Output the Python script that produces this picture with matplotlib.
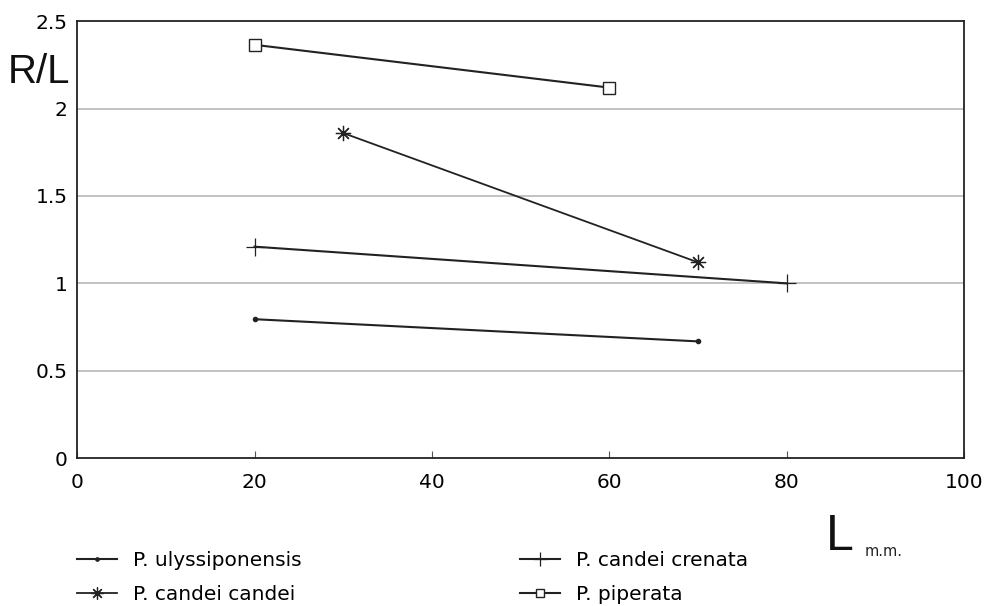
import matplotlib
matplotlib.use('Agg')
import matplotlib.pyplot as plt

plt.rcParams['font.family'] = ['DejaVu Sans']

names = ['P. ulyssiponensis', 'P. candei candei', 'P. candei crenata', 'P. piperata']
ulys_x = [20, 70]
ulys_y = [0.795, 0.668]
candei_x = [30, 70]
candei_y = [1.86, 1.12]
crenata_x = [20, 80]
crenata_y = [1.21, 1.0]
piper_x = [20, 60]
piper_y = [2.365, 2.12]

fig = plt.figure(figsize=(9.88, 6.06), dpi=100)
ax = fig.add_axes([0.078, 0.244, 0.898, 0.721])

for y in [0.5, 1, 1.5, 2]:
    ax.axhline(y, color='#b8b8b8', lw=1.2, zorder=0)

l1, = ax.plot(ulys_x, ulys_y, color='#222222', lw=1.5, marker='o', ms=3)
l2, = ax.plot(candei_x, candei_y, color='#222222', lw=1.3, marker=(8, 2, 0), ms=11, mew=0.9)
l3, = ax.plot(crenata_x, crenata_y, color='#222222', lw=1.5, marker='+', ms=13, mew=0.9)
l4, = ax.plot(piper_x, piper_y, color='#222222', lw=1.5, marker='s', ms=8, mfc='white', mew=1.0)

ax.set_xlim(0, 100)
ax.set_ylim(0, 2.5)
ax.set_xticks([0, 20, 40, 60, 80, 100])
ax.set_yticks([0, 0.5, 1, 1.5, 2, 2.5])
ax.set_yticklabels(['0', '0.5', '1', '1.5', '2', '2.5'])
ax.tick_params(axis='x', direction='in', length=5, labelsize=14.5, pad=11, color='#555555')
ax.tick_params(axis='y', length=0, labelsize=14.5, pad=7)
for s in ax.spines.values():
    s.set_linewidth(1.3)
    s.set_color('#222222')

fig.text(0.008, 0.881, 'R/L', fontsize=29, color='#111111', ha='left', va='center',
         family='Liberation Sans')
fig.text(0.850, 0.114, 'L', fontsize=36, color='#111111', ha='center', va='center',
         family='Liberation Sans')
fig.text(0.875, 0.09, 'm.m.', fontsize=10.5, color='#222222', ha='left', va='center')

kw = dict(loc='lower left', frameon=False, fontsize=14.5, handlelength=2.0,
          handletextpad=0.8, labelspacing=0.72, borderpad=0, borderaxespad=0,
          markerscale=0.8)
fig.legend([l1, l2], names[:2], bbox_to_anchor=(0.078, 0.004), **kw)
fig.legend([l3, l4], names[2:], bbox_to_anchor=(0.526, 0.004), **kw)

fig.savefig('out.png', dpi=100)
